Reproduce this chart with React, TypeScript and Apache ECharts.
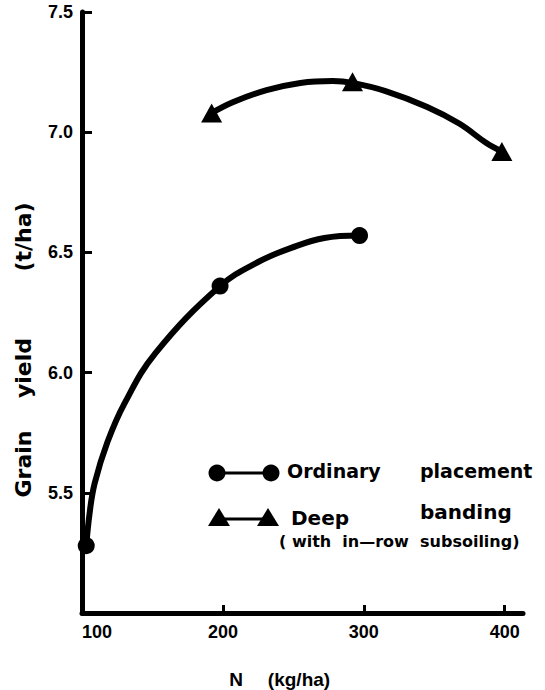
import React, { useEffect, useRef } from "react";
import * as echarts from "echarts";

// ---- data ----
const xTicks = [100, 200, 300, 400];
const yTicks = [5.5, 6.0, 6.5, 7.0, 7.5];

// measured points (N kg/ha, grain yield t/ha)
const ordinaryN = [103, 198, 297];
const ordinaryYield = [5.28, 6.36, 6.57];
const deepN = [192, 292, 398];
const deepYield = [7.08, 7.21, 6.92];

// hand-drawn fitted curves
const ordinaryCurveN = [103, 105.5, 109, 118, 130, 152, 198, 225, 249, 272, 297];
const ordinaryCurveYield = [5.28, 5.42, 5.54, 5.71, 5.87, 6.08, 6.36, 6.46, 6.52, 6.56, 6.57];
const deepCurveN = [192, 207, 231, 255, 278, 292, 316, 345, 368, 387, 398];
const deepCurveYield = [7.08, 7.125, 7.175, 7.205, 7.213, 7.205, 7.17, 7.105, 7.035, 6.955, 6.92];

const legendOrdinary = ["Ordinary", "placement"];
const legendDeep = ["Deep", "banding", "( with  in\u2014row  subsoiling)"];
const yTitle = ["Grain", "yield", "(t/ha)"];
const xTitle = ["N", "(kg/ha)"];

const zip = (a: number[], b: number[]) => a.map((v, i) => [v, b[i]]);

export default function App() {
  const ref = useRef<HTMLDivElement>(null);
  useEffect(() => {
    if (!ref.current) return;
    const chart = echarts.init(ref.current, undefined, { renderer: "svg" });
    const black = "#000";
    const tickFont = { fontFamily: "Liberation Sans", fontWeight: "bold" as const, fontSize: 18, color: black };
    const legFont = "bold 19px 'DejaVu Sans'";
    const legFont2 = "bold 20px 'DejaVu Sans'";
    const yFont = "bold 22px 'DejaVu Sans'";
    chart.setOption({
      animation: false,
      backgroundColor: "#fff",
      grid: { left: 82, right: 22, top: 12, bottom: 77 },
      xAxis: {
        type: "value",
        min: 100,
        max: 413,
        interval: 100,
        splitLine: { show: false },
        axisLine: { lineStyle: { color: black, width: 5 } },
        axisTick: { inside: true, length: 8, lineStyle: { color: black, width: 3 }, customValues: xTicks },
        axisLabel: {
          ...tickFont,
          margin: 10,
          customValues: xTicks,
          alignMinLabel: "left",
          formatter: (v: number) => (xTicks.includes(v) ? String(v) : ""),
        },
      },
      yAxis: {
        type: "value",
        min: 5,
        max: 7.5,
        interval: 0.5,
        splitLine: { show: false },
        axisLine: { lineStyle: { color: black, width: 5 } },
        axisTick: { inside: true, length: 10, lineStyle: { color: black, width: 3 }, customValues: yTicks },
        axisLabel: {
          ...tickFont,
          margin: 9,
          customValues: yTicks,
          formatter: (v: number) => (v >= 5.4 ? v.toFixed(1) : ""),
        },
      },
      series: [
        {
          type: "line",
          smooth: 0.4,
          showSymbol: false,
          lineStyle: { color: black, width: 6 },
          data: zip(ordinaryCurveN, ordinaryCurveYield),
          z: 2,
        },
        {
          type: "line",
          smooth: 0.4,
          showSymbol: false,
          lineStyle: { color: black, width: 6 },
          data: zip(deepCurveN, deepCurveYield),
          z: 2,
        },
        {
          type: "scatter",
          symbol: "circle",
          symbolSize: 17,
          itemStyle: { color: black, opacity: 1 },
          data: zip(ordinaryN, ordinaryYield),
          z: 3,
        },
        {
          type: "scatter",
          symbol: "triangle",
          symbolSize: [21, 19],
          itemStyle: { color: black, opacity: 1 },
          data: zip(deepN, deepYield),
          z: 3,
        },
      ],
      graphic: [
        // y axis title
        { type: "text", x: 23, y: 464, rotation: Math.PI / 2, style: { text: yTitle[0], font: yFont, fill: black, align: "center", verticalAlign: "middle" } },
        { type: "text", x: 23, y: 368, rotation: Math.PI / 2, style: { text: yTitle[1], font: yFont, fill: black, align: "center", verticalAlign: "middle" } },
        { type: "text", x: 23, y: 237, rotation: Math.PI / 2, style: { text: yTitle[2], font: yFont, fill: black, align: "center", verticalAlign: "middle" } },
        // x axis title
        { type: "text", x: 236, y: 679, style: { text: xTitle[0], font: "bold 19px 'Liberation Sans'", fill: black, align: "center", verticalAlign: "middle" } },
        { type: "text", x: 299, y: 679, style: { text: xTitle[1], font: "bold 19px 'Liberation Sans'", fill: black, align: "center", verticalAlign: "middle" } },
        // legend: ordinary
        { type: "line", shape: { x1: 217, y1: 473, x2: 271, y2: 473 }, style: { stroke: black, lineWidth: 3 } },
        { type: "circle", shape: { cx: 217, cy: 473, r: 8.5 }, style: { fill: black } },
        { type: "circle", shape: { cx: 271, cy: 473, r: 8.5 }, style: { fill: black } },
        { type: "text", x: 287, y: 471, style: { text: legendOrdinary[0], font: legFont, fill: black, align: "left", verticalAlign: "middle" } },
        { type: "text", x: 420, y: 471, style: { text: legendOrdinary[1], font: legFont, fill: black, align: "left", verticalAlign: "middle" } },
        // legend: deep
        { type: "line", shape: { x1: 219, y1: 519, x2: 268, y2: 519 }, style: { stroke: black, lineWidth: 3 } },
        { type: "polygon", shape: { points: [[208, 526], [219, 508], [230, 526]] }, style: { fill: black } },
        { type: "polygon", shape: { points: [[257, 526], [268, 508], [279, 526]] }, style: { fill: black } },
        { type: "text", x: 291, y: 518, style: { text: legendDeep[0], font: legFont2, fill: black, align: "left", verticalAlign: "middle" } },
        { type: "text", x: 420, y: 512, style: { text: legendDeep[1], font: legFont2, fill: black, align: "left", verticalAlign: "middle" } },
        { type: "text", x: 279, y: 541, style: { text: legendDeep[2], font: "bold 16px 'DejaVu Sans'", fill: black, align: "left", verticalAlign: "middle" } },
      ],
    });
    return () => chart.dispose();
  }, []);
  return <div ref={ref} style={{ position: "absolute", left: 0, top: 0, width: 545, height: 690, background: "#fff" }} />;
}
